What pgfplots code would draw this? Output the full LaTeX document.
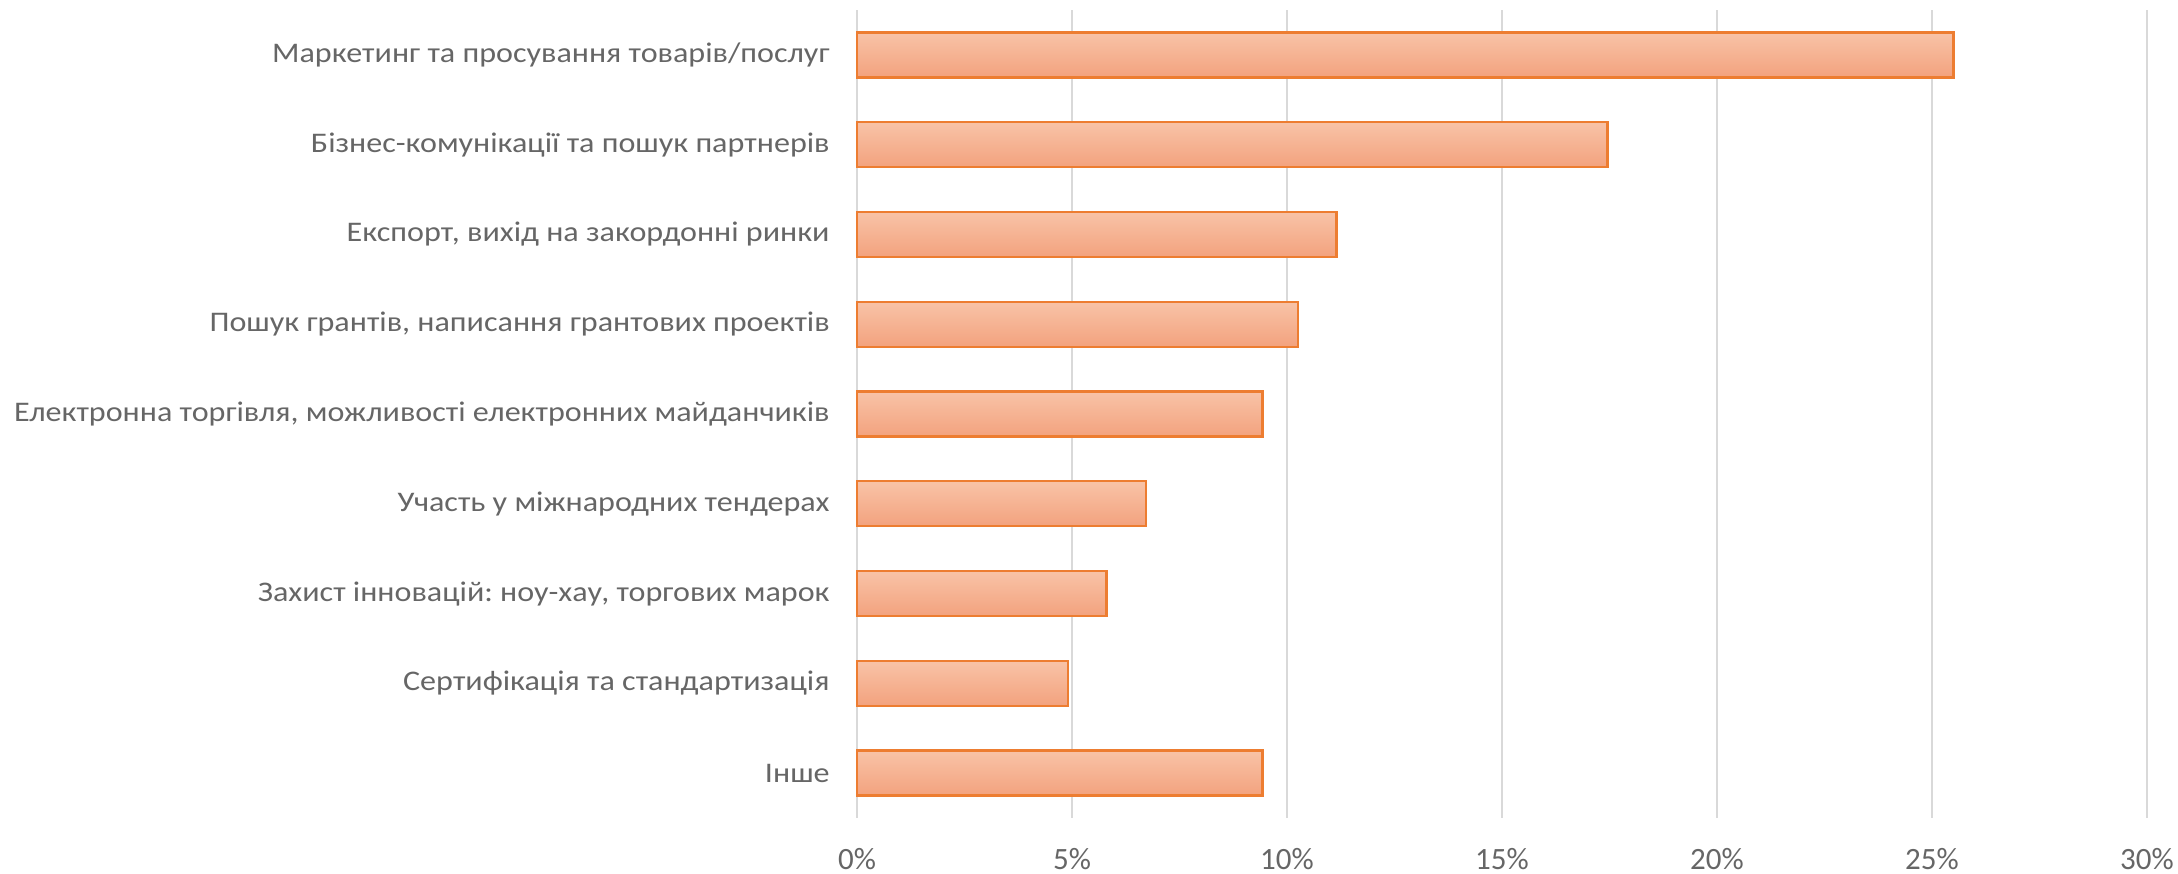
\documentclass[border=0pt]{standalone}
\usepackage{pgfplots}
\pgfplotsset{compat=1.18}
\usepackage{fontspec}
\setmainfont{Carlito}
\newfontfamily\labfont[FakeStretch=1.13]{Carlito}
\frenchspacing
\definecolor{txt}{HTML}{666666}
\definecolor{gridc}{HTML}{D9D9D9}
\definecolor{barline}{HTML}{ED7D31}
\definecolor{bartop}{HTML}{F8C3A7}
\definecolor{barbot}{HTML}{F3A27E}
\begin{document}
\frenchspacing
\begin{tikzpicture}
\useasboundingbox (-428.5pt,-27.75pt) rectangle (660.5pt,409pt);
\begin{axis}[
  at={(0,0)}, anchor=south west,
  scale only axis,
  width=645pt, height=404pt,
  xmin=0, xmax=30,
  ymin=-0.5, ymax=8.5,
  y dir=reverse,
  xtick={0,5,...,30},
  xticklabel={\pgfmathprintnumber{\tick}\%},
  /pgf/number format/assume math mode=true,
  ytick={0,...,8},
  yticklabels={
    Маркетинг та просування товарів/послуг,
    Бізнес-комунікації та пошук партнерів,
    {Експорт, вихід на закордонні ринки},
    {Пошук грантів, написання грантових проектів},
    {Електронна торгівля, можливості електронних майданчиків},
    Участь у міжнародних тендерах,
    {Захист інновацій: ноу-хау, торгових марок},
    Сертифікація та стандартизація,
    Інше},
  xmajorgrids,
  grid style={gridc, line width=0.7pt},
  axis line style={draw=none},
  major tick length=0pt,
  tick style={draw=none},
  xticklabel style={font=\fontsize{15.5}{18}\selectfont, text=txt, inner sep=0pt, anchor=north, yshift=-14.75pt},
  yticklabel style={font=\labfont\fontsize{14.2}{17}\selectfont\frenchspacing, text=txt, inner sep=0pt, anchor=east, xshift=-13.5pt},
  clip=false,
  onebar/.style={xbar, bar width=22.5pt, bar shift=0pt, draw=barline, line width=1.2pt, top color=bartop, bottom color=barbot},
]
\addplot[onebar] coordinates {(25.5,0)};
\addplot[onebar] coordinates {(17.45,1)};
\addplot[onebar] coordinates {(11.15,2)};
\addplot[onebar] coordinates {(10.25,3)};
\addplot[onebar] coordinates {(9.43,4)};
\addplot[onebar] coordinates {(6.72,5)};
\addplot[onebar] coordinates {(5.8,6)};
\addplot[onebar] coordinates {(4.91,7)};
\addplot[onebar] coordinates {(9.43,8)};
\end{axis}
\end{tikzpicture}
\end{document}
